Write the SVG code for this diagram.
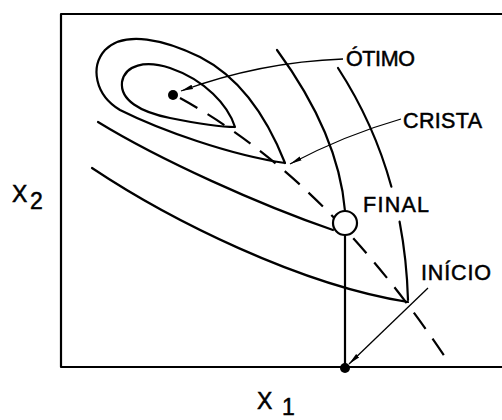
<svg xmlns="http://www.w3.org/2000/svg" width="502" height="420" viewBox="0 0 502 420">
<defs>
<style>
.c{fill:none;stroke:#000;stroke-width:2.2;stroke-linecap:round;stroke-linejoin:round}
.d{fill:none;stroke:#000;stroke-width:2.2;stroke-dasharray:20 12}
.a{fill:none;stroke:#000;stroke-width:1.3}
.t{font-family:"Liberation Sans",Arial,sans-serif;font-size:21.5px;fill:#000;stroke:#000;stroke-width:0.5}
.x{font-family:"Liberation Sans",Arial,sans-serif;font-size:23px;fill:#000;stroke:#000;stroke-width:0.5}
</style>
<marker id="ah" viewBox="0 0 12 6" refX="12" refY="3" markerWidth="12" markerHeight="6" markerUnits="userSpaceOnUse" orient="auto">
<path d="M0,0.8 L12,3 L0,5.2 Z" fill="#000"/>
</marker>
</defs>
<rect width="502" height="420" fill="#fff"/>
<g id="frame">
<path class="c" d="M502,14 L61,14 L61,367 L502,367"/>
</g>
<g id="contours">
<path class="c" d="M285,163 C270,125 245,80 200,57 C165,40 125,30 105,50 C90,67 95,95 120,110 C160,130 230,155 285,163"/>
<path class="c" d="M235,127 C228,105 205,80 170,68 C145,60 125,65 122,82 C120,100 140,112 170,118 C195,123 220,127 235,127"/>
<path class="c" d="M98,122 C160,160 260,205 333,230"/>
<path class="c" d="M92,168 C170,220 300,285 408,302"/>
<path class="c" d="M277,50 C310,95 340,150 345,211"/>
<path class="c" d="M338,68 C359.5,101.1 378.6,140.2 391.4,186.7"/>
<path class="c" d="M399.6,221.7 C404.2,245.9 407.2,272 408,300"/>
</g>
<g id="connectors">
<path class="d" d="M180,98 C280,153 367,240 447,360"/>
<path class="c" d="M345,235 L345,368"/>
<path class="a" d="M343,59 Q260,62 181,91" marker-end="url(#ah)"/>
<path class="a" d="M401,119 Q345,135 290,164" marker-end="url(#ah)"/>
<path class="a" d="M428,288 L349,364" marker-end="url(#ah)"/>
</g>
<g id="otimo">
<circle cx="173" cy="95" r="5" fill="#000"/>
<text class="t" x="346" y="66" textLength="69">ÓTIMO</text>
</g>
<g id="crista">
<text class="t" x="403" y="128" textLength="79">CRISTA</text>
</g>
<g id="final">
<circle cx="345" cy="223" r="12" fill="#fff" stroke="#000" stroke-width="2.2"/>
<text class="t" x="363" y="212" textLength="66">FINAL</text>
</g>
<g id="inicio">
<circle cx="345" cy="368" r="5" fill="#000"/>
<text class="t" x="421" y="280" textLength="70">INÍCIO</text>
</g>
<g id="axis-x1">
<text class="x" x="257" y="409">X</text>
<text class="x" x="282" y="415" font-size="20">1</text>
</g>
<g id="axis-x2">
<text class="x" x="12" y="202">X</text>
<text class="x" x="30" y="209" font-size="21">2</text>
</g>
</svg>
